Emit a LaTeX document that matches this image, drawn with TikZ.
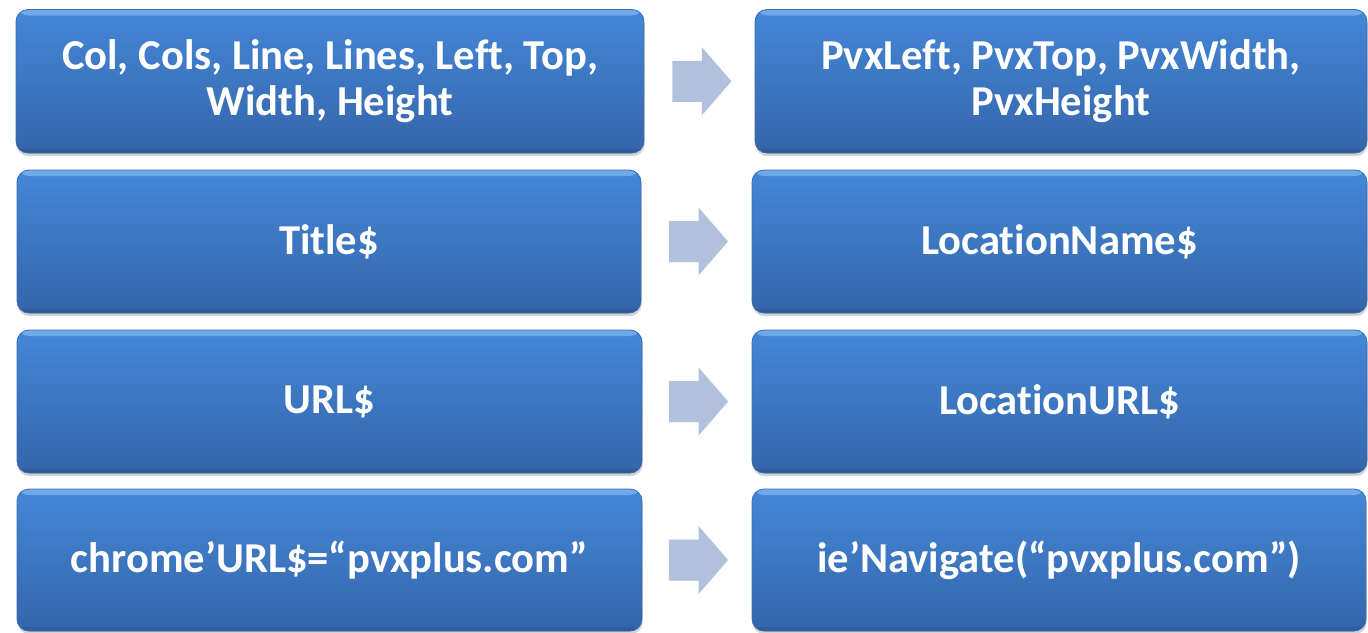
\documentclass[tikz,border=0pt]{standalone}
\usepackage{fontspec}
\setmainfont{Carlito}[Ligatures={NoCommon}]
\usetikzlibrary{shadows}
\definecolor{boxtop}{HTML}{4487D7}
\definecolor{boxbot}{HTML}{3565AA}
\definecolor{boxlight}{HTML}{72A9EC}
\definecolor{boxdark}{HTML}{2A5390}
\definecolor{boxedge}{HTML}{3A6DB5}
\definecolor{arrowfill}{HTML}{B1C1DD}
\tikzset{
  box/.style={rounded corners=6pt, top color=boxtop, bottom color=boxbot,
    draw=boxedge, line width=0.4pt,
    drop shadow={shadow xshift=0.3pt, shadow yshift=-1.6pt, opacity=0.35},
    inner sep=0pt, align=center, text=white,
    font=\fontsize{21.3}{23}\selectfont\bfseries,
    path picture={
      \shade[top color=boxlight, bottom color=boxtop]
        (path picture bounding box.north west) rectangle
        ([yshift=-3pt]path picture bounding box.north east);
      \shade[top color=boxbot, bottom color=boxdark]
        ([yshift=3pt]path picture bounding box.south west) rectangle
        (path picture bounding box.south east);
    }},
  blockarrow/.style={fill=arrowfill, draw=none}
}
\newcommand\blockarr[1]{%
  \fill[blockarrow] ([shift={(-29.5,-20.5)}]#1) -- ++(29.5,0) -- ++(0,-13.5)
    -- ++(29.5,34) -- ++(-29.5,34) -- ++(0,-13.5) -- ++(-29.5,0) -- cycle;}
\begin{document}
\begin{tikzpicture}[x=0.5pt,y=-0.5pt]
\useasboundingbox (0,0) rectangle (1368,632);
\clip (0,0) rectangle (1368,632);
\fill[white] (0,0) rectangle (1368,632);
% row 1
\node[box, minimum width=314pt, minimum height=71.75pt] (L1) at (330,81.25)
  {Col, Cols, Line, Lines, Left, Top,\\Width, Height};
\node[box, minimum width=306pt, minimum height=71.75pt] (R1) at (1061,81.25)
  {PvxLeft, PvxTop, PvxWidth,\\PvxHeight};
% row 2
\node[box, minimum width=312pt, minimum height=71.5pt] (L2) at (329,241.5)
  {Title\$};
\node[box, minimum width=307.5pt, minimum height=71.5pt] (R2) at (1059.5,241.5)
  {LocationName\$};
% row 3
\node[box, minimum width=312.5pt, minimum height=71.5pt] (L3) at (329.5,401.5)
  {URL\$};
\node[box, minimum width=307.5pt, minimum height=71.5pt] (R3) at (1059.5,401.5)
  {LocationURL\$};
% row 4
\node[box, minimum width=312.5pt, minimum height=71pt] (L4) at (329.5,560)
  {chrome’URL\$=“pvxplus.com”};
\node[box, minimum width=307pt, minimum height=71pt] (R4) at (1059,560)
  {ie’Navigate(“pvxplus.com”)};
% arrows
\path (L1.east) -- (R1.west) coordinate[midway] (m1);
\path (L2.east) -- (R2.west) coordinate[midway] (m2);
\path (L3.east) -- (R3.west) coordinate[midway] (m3);
\path (L4.east) -- (R4.west) coordinate[midway] (m4);
\coordinate (a1) at ([xshift=1.2pt]m1);
\coordinate (a2) at ([xshift=1pt]m2);
\coordinate (a3) at ([xshift=0.8pt]m3);
\coordinate (a4) at ([xshift=0.8pt]m4);
\blockarr{a1}
\blockarr{a2}
\blockarr{a3}
\blockarr{a4}
\end{tikzpicture}
\end{document}
